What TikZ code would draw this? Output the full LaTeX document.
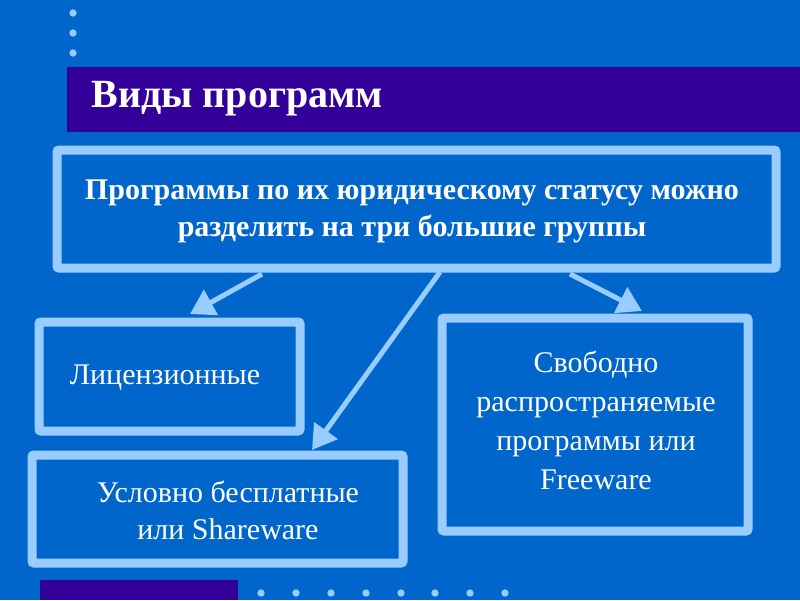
\documentclass[tikz,border=0pt]{standalone}
\usepackage{fontspec}
\setmainfont{Liberation Serif}
\usetikzlibrary{arrows.meta}
\definecolor{slidebg}{HTML}{0066CC}
\definecolor{barcol}{HTML}{330099}
\definecolor{framecol}{HTML}{99CCFF}
\tikzset{
  groupbox/.style={draw=framecol,line width=9pt,fill=slidebg,rounded corners=2pt},
  grouptext/.style={text=white,align=center,font=\fontsize{30}{37}\selectfont},
  arrowline/.style={draw=framecol,line width=5pt,-{Triangle[length=24pt,width=28pt,fill=framecol]}},
  bulletdot/.style={fill=framecol,circle,inner sep=2.6pt}
}
\begin{document}
\begin{tikzpicture}[x=1pt,y=-1pt]
\fill[slidebg] (0,0) rectangle (800,600);
\useasboundingbox (0,0) rectangle (800,600);

% top-left dots
\foreach \y in {13,33,53}
  \node[bulletdot] at (73,\y) {};

% title bar
\fill[barcol] (67,67) rectangle (800,132);
\node[anchor=west,text=white,font=\fontsize{40}{44}\selectfont\bfseries] (title) at (88,99) {Виды программ};

% boxes
\draw[groupbox] (57,150) rectangle (776,268);
\node[grouptext,font=\fontsize{30}{37}\selectfont\bfseries] (main) at (412,211) {Программы по их юридическому статусу можно\\разделить на три большие группы};

\draw[groupbox] (39,322) rectangle (300,431);
\node[grouptext] (lic) at (165,378) {Лицензионные};

\draw[groupbox] (32,455) rectangle (403,563);
\node[grouptext] (share) at (228,510) {Условно бесплатные\\или Shareware};

\draw[groupbox] (442,318) rectangle (748,531);
\node[grouptext,font=\fontsize{30}{39}\selectfont] (free) at (596,420) {Свободно\\распространяемые\\программы или\\Freeware};

% arrows
\coordinate (a1) at (262,274);
\coordinate (b1) at (190,314);
\coordinate (a2) at (440,272);
\coordinate (b2) at (312,450);
\coordinate (a3) at (570,274);
\coordinate (b3) at (642,311);
\draw[arrowline] (a1) -- (b1);
\draw[arrowline] (a2) -- (b2);
\draw[arrowline] (a3) -- (b3);

% bottom bar and dots
\fill[barcol] (40,580) rectangle (238,600);
\foreach \x in {261,296,331,366,401,435,470,505}
  \node[bulletdot] at (\x,593) {};
\end{tikzpicture}
\end{document}
